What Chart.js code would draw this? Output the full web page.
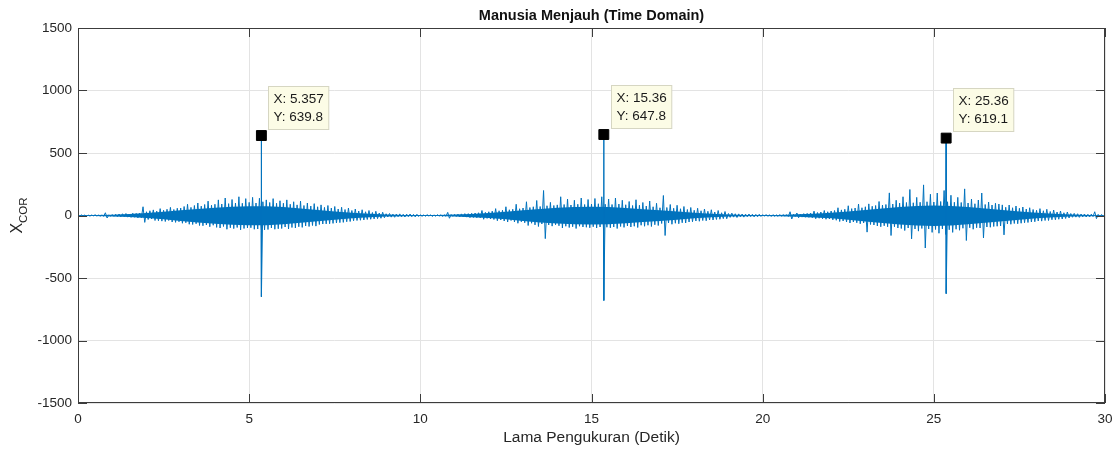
<!DOCTYPE html>
<html>
<head>
<meta charset="utf-8">
<script src="https://cdn.jsdelivr.net/npm/chart.js@4.4.1/dist/chart.umd.min.js"></script>
<style>
  html, body { margin: 0; padding: 0; background: #fff; }
  #wrap { width: 1115px; height: 449px; }
</style>
</head>
<body>
<div id="wrap"><canvas id="xcor"></canvas></div>
<script>
const step = 0.05;
const noise = [
  3,-4,5,-3,4,-6,3,-5,4,-3,6,-4,3,-5,4,-6,22,-20,5,-6,
  8,-7,10,-9,12,-11,14,-10,16,-13,12,-15,18,-14,17,-19,20,-18,70,-55,
  30,-32,38,-28,45,-40,35,-42,55,-45,42,-48,50,-40,65,-52,48,-55,58,-50,
  60,-62,72,-58,90,-70,65,-72,80,-66,100,-80,75,-82,88,-76,115,-90,82,-78,
  90,-95,125,-100,92,-88,140,-110,95,-98,128,-105,100,-96,150,-115,98,-104,135,-100,
  105,-98,145,-110,100,-108,138,-120,110,-115,125,-112,104,-100,135,-110,98,-106,118,-104,
  98,-92,125,-108,90,-96,110,-100,85,-90,115,-95,80,-84,100,-88,76,-80,95,-85,
  70,-72,85,-68,65,-67,80,-66,60,-63,72,-60,52,-57,66,-55,48,-50,60,-48,
  40,-42,52,-40,36,-38,46,-36,30,-32,40,-30,24,-27,34,-25,20,-22,26,-18,
  14,-12,16,-13,11,-14,12,-10,13,-11,10,-12,11,-9,12,-10,9,-11,10,-8,
  6,-7,5,-6,7,-5,6,-8,5,-6,7,-5,6,-7,5,-6,25,-22,8,-7,
  9,-8,11,-12,13,-11,15,-13,15,-17,18,-16,20,-18,22,-19,40,-30,25,-23,
  30,-28,35,-32,55,-42,38,-36,42,-44,70,-52,46,-40,50,-52,90,-62,54,-50,
  60,-58,110,-80,64,-62,70,-75,120,-88,72,-68,200,-185,78,-76,105,-85,80,-74,
  85,-82,150,-100,88,-86,132,-96,84,-90,122,-104,90,-86,140,-92,88,-94,128,-98,
  92,-90,136,-100,94,-92,150,-108,90,-94,132,-98,88,-92,140,-104,92,-88,122,-95,
  86,-84,112,-92,80,-86,126,-96,82,-78,104,-86,76,-78,116,-88,70,-74,98,-80,
  62,-64,160,-160,64,-60,88,-70,58,-62,82,-66,54,-58,72,-60,48,-52,64,-50,
  42,-44,58,-46,38,-40,52,-42,34,-36,46,-36,28,-32,40,-30,22,-25,32,-26,
  16,-15,19,-13,14,-16,13,-11,12,-13,11,-10,12,-9,10,-11,9,-10,10,-8,
  7,-6,8,-7,6,-8,7,-6,5,-7,8,-6,7,-5,6,-8,30,-28,9,-8,
  20,-18,12,-13,15,-14,17,-15,20,-18,35,-26,24,-22,28,-26,40,-30,30,-28,
  36,-35,40,-38,62,-48,45,-44,50,-52,78,-60,55,-52,60,-58,92,-66,62,-60,
  70,-133,93,-72,74,-76,80,-84,112,-90,84,-82,88,-90,181,-160,92,-90,122,-100,
  100,-104,150,-120,104,-100,208,-187,102,-108,145,-125,106,-104,245,-260,110,-108,170,-135,
  108,-112,180,-142,112,-108,200,-152,110,-114,162,-135,106,-110,145,-118,104,-102,213,-200,
  100,-98,132,-110,94,-98,124,-100,180,-180,88,-92,108,-94,84,-88,98,-86,92,-84,
  85,-155,66,-68,84,-70,62,-64,76,-66,58,-62,68,-58,52,-56,62,-52,48,-50,
  42,-44,55,-45,38,-40,50,-40,32,-34,44,-34,28,-30,36,-28,22,-24,28,-20,
  16,-14,17,-13,14,-15,12,-11,12,-12,10,-12,11,-9,30,-25,9,-10,8,-7,
  5
];

// dense core of the signal (solid band), every 0.5 s
const coreStep = 0.5;
const coreUpper = [
  3,4,7,12,20,30,42,52,62,70,75,75,68,57,45,33,22,14,8,5,
  4,4,8,13,20,30,42,52,62,68,70,68,60,50,42,33,22,14,8,5,
  4,5,10,15,22,33,45,57,68,76,80,76,68,57,45,33,22,14,8,5,
  3
];
const coreLower = [
  -3,-4,-7,-12,-20,-30,-44,-55,-65,-74,-78,-78,-70,-58,-45,-33,-22,-14,-8,-5,
  -4,-4,-8,-13,-20,-30,-44,-55,-64,-70,-72,-70,-62,-52,-43,-33,-22,-14,-8,-5,
  -4,-5,-10,-15,-22,-34,-48,-60,-72,-80,-84,-80,-70,-58,-45,-33,-22,-14,-8,-5,
  -3
];

// the three correlation peaks (data tips) and the matching negative excursion
const peakX = [5.357, 15.36, 25.36];
const peakY = [639.8, 647.8, 619.1];
const peakMin = [-650, -680, -625];

const xTicks = [0, 5, 10, 15, 20, 25, 30];
const yTicks = [-1500, -1000, -500, 0, 500, 1000, 1500];

const series = noise.map((v, i) => ({ x: +(i * step).toFixed(2), y: v }));
peakX.forEach((t, k) => {
  series.push({ x: t, y: peakY[k] }, { x: t + 0.001, y: peakMin[k] });
});
series.sort((a, b) => a.x - b.x);

const FONT = '"Liberation Sans", Arial, Helvetica, sans-serif';
const BLUE = '#0072BD';

const matlabAxes = {
  id: 'matlabAxes',
  afterDraw(chart) {
    const { ctx, chartArea: a, scales } = chart;
    ctx.save();
    // box + inward ticks
    ctx.strokeStyle = '#3c3c3c';
    ctx.lineWidth = 1;
    ctx.strokeRect(a.left + 0.5, a.top + 0.5, a.right - a.left - 1, a.bottom - a.top - 1);
    ctx.beginPath();
    xTicks.forEach(t => {
      const px = Math.round(scales.x.getPixelForValue(t)) + 0.5;
      ctx.moveTo(px, a.bottom); ctx.lineTo(px, a.bottom - 9);
      ctx.moveTo(px, a.top); ctx.lineTo(px, a.top + 9);
    });
    yTicks.forEach(v => {
      const py = Math.round(scales.y.getPixelForValue(v)) + 0.5;
      ctx.moveTo(a.left, py); ctx.lineTo(a.left + 9, py);
      ctx.moveTo(a.right, py); ctx.lineTo(a.right - 9, py);
    });
    ctx.stroke();

    // titles
    ctx.fillStyle = '#111';
    ctx.textAlign = 'center';
    ctx.textBaseline = 'middle';
    ctx.font = 'bold 14.5px ' + FONT;
    ctx.fillText('Manusia Menjauh (Time Domain)', (a.left + a.right) / 2, 16);
    ctx.fillStyle = '#262626';
    ctx.font = '15.5px ' + FONT;
    ctx.fillText('Lama Pengukuran (Detik)', (a.left + a.right) / 2, 438);

    ctx.save();
    ctx.translate(18, (a.top + a.bottom) / 2);
    ctx.rotate(-Math.PI / 2);
    ctx.textAlign = 'left';
    ctx.font = '16px ' + FONT;
    const wX = ctx.measureText('X').width;
    ctx.font = '11.5px ' + FONT;
    const wSub = ctx.measureText('COR').width;
    const x0 = -(wX + wSub) / 2;
    ctx.font = '16px ' + FONT;
    ctx.fillText('X', x0, 0);
    ctx.font = '11.5px ' + FONT;
    ctx.fillText('COR', x0 + wX, 6);
    ctx.restore();

    // data tips
    ctx.font = '13.5px ' + FONT;
    ctx.textAlign = 'left';
    peakX.forEach((t, k) => {
      const px = scales.x.getPixelForValue(t);
      const py = scales.y.getPixelForValue(peakY[k]);
      const l1 = 'X: ' + t;
      const l2 = 'Y: ' + peakY[k];
      const w = Math.max(ctx.measureText(l1).width, ctx.measureText(l2).width) + 10;
      const bx = Math.round(px + 7) + 0.5, by = Math.round(py - 50) + 0.5;
      ctx.fillStyle = '#fcfce6';
      ctx.strokeStyle = '#d6d6c2';
      ctx.fillRect(bx, by, w, 43);
      ctx.strokeRect(bx, by, w, 43);
      ctx.fillStyle = '#1a1a1a';
      ctx.fillText(l1, bx + 5, by + 13);
      ctx.fillText(l2, bx + 5, by + 31);
    });
    ctx.restore();
  }
};

new Chart(document.getElementById('xcor'), {
  type: 'line',
  data: {
    datasets: [
      {
        data: coreUpper.map((v, i) => ({ x: i * coreStep, y: v })),
        borderWidth: 0,
        pointRadius: 0,
        backgroundColor: BLUE,
        fill: '+1',
        order: 3,
      },
      {
        data: coreLower.map((v, i) => ({ x: i * coreStep, y: v })),
        borderWidth: 0,
        pointRadius: 0,
        fill: false,
        order: 3,
      },
      {
        data: series,
        borderColor: BLUE,
        borderWidth: 1,
        pointRadius: 0,
        tension: 0,
        fill: false,
        order: 2,
      },
      {
        type: 'scatter',
        data: peakX.map((t, k) => ({ x: t, y: peakY[k] })),
        pointStyle: 'rect',
        pointRadius: 7,
        backgroundColor: '#000',
        borderColor: '#000',
        borderWidth: 1,
        order: 1,
      },
    ],
  },
  options: {
    responsive: true,
    maintainAspectRatio: false,
    animation: false,
    events: [],
    layout: { padding: { top: 28, right: 10, left: 0, bottom: 0 } },
    plugins: {
      legend: { display: false },
      tooltip: { enabled: false },
    },
    scales: {
      x: {
        type: 'linear',
        min: 0,
        max: 30,
        afterBuildTicks: (s) => { s.ticks = xTicks.map(v => ({ value: v })); },
        afterFit: (s) => { s.height = 46; s.paddingLeft = 0; s.paddingRight = 0; },
        grid: { color: '#e3e3e3', drawTicks: false },
        border: { display: false },
        ticks: { padding: 8, color: '#262626', font: { family: FONT, size: 13.5 }, maxRotation: 0,
                 callback: (v) => String(v) },
      },
      y: {
        min: -1500,
        max: 1500,
        afterBuildTicks: (s) => { s.ticks = yTicks.map(v => ({ value: v })); },
        afterFit: (s) => { s.width = 78; s.paddingTop = 0; s.paddingBottom = 0; },
        grid: { color: '#e3e3e3', drawTicks: false },
        border: { display: false },
        ticks: { padding: 6, color: '#262626', font: { family: FONT, size: 13.5 },
                 callback: (v) => String(v) },
      },
    },
  },
  plugins: [matlabAxes],
});
</script>
</body>
</html>
